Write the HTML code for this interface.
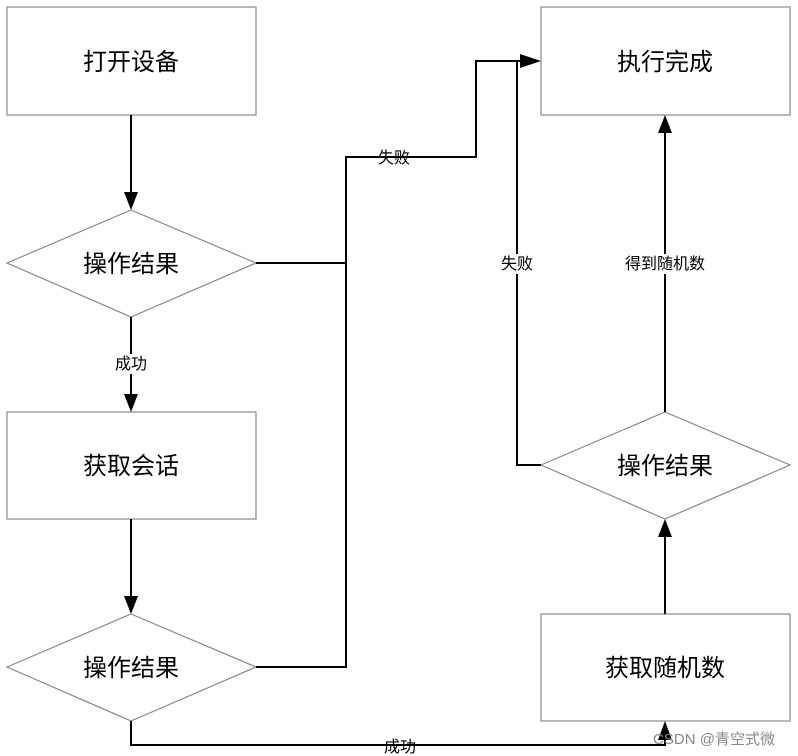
<!DOCTYPE html>
<html><head><meta charset="utf-8"><style>
html,body{margin:0;padding:0;background:#fff;}
</style></head><body>
<svg width="798" height="756" xmlns="http://www.w3.org/2000/svg" style="display:block">
<g fill="#fff" stroke="#888" stroke-width="1.2">
<rect x="7" y="7" width="249" height="108"/>
<rect x="7" y="412" width="249" height="107"/>
<rect x="541" y="7" width="249" height="108"/>
<rect x="541" y="614" width="249" height="107"/>
<polygon points="7,263 131,210 256,263 131,317"/>
<polygon points="7,667 131,614 256,667 131,721"/>
<polygon points="541,465 665,412 790,465 665,519"/>
</g>
<g fill="none" stroke="#000" stroke-width="2">
<line x1="131" y1="115" x2="131" y2="192"/>
<line x1="131" y1="317" x2="131" y2="394"/>
<line x1="131" y1="519" x2="131" y2="596"/>
<polyline points="256,263 346,263 346,157 476,157 476,61 522,61"/>
<polyline points="256,667 346,667 346,263"/>
<polyline points="131,721 131,745 665,745 665,740"/>
<polyline points="541,465 517,465 517,61"/>
<line x1="665" y1="412" x2="665" y2="133"/>
<line x1="665" y1="614" x2="665" y2="537"/>
</g>
<g fill="#000">
<polygon points="124,192 138,192 131,210"/>
<polygon points="124,394 138,394 131,412"/>
<polygon points="124,596 138,596 131,614"/>
<polygon points="520,54 520,68 541,61"/>
<polygon points="658,133 672,133 665,115"/>
<polygon points="658,537 672,537 665,519"/>
<polygon points="658,740 672,740 665,721"/>
</g>
<g font-family="Liberation Sans, Noto Sans CJK SC, sans-serif" text-anchor="middle" fill="#000">
<g font-size="24">
<text x="131" y="70">打开设备</text>
<text x="131" y="272">操作结果</text>
<text x="131" y="474">获取会话</text>
<text x="131" y="676">操作结果</text>
<text x="665" y="70">执行完成</text>
<text x="665" y="474">操作结果</text>
<text x="665" y="676">获取随机数</text>
</g>
<g font-size="16">
<rect x="112" y="354" width="38" height="20" fill="#fff"/>
<text x="131" y="369">成功</text>
<text x="394" y="163">失败</text>
<rect x="498" y="254" width="38" height="20" fill="#fff"/>
<text x="517" y="269">失败</text>
<rect x="620" y="254" width="90" height="20" fill="#fff"/>
<text x="665" y="269">得到随机数</text>
<text x="400" y="752">成功</text>
</g>
<text x="714" y="744" font-size="15" fill="#888">CSDN @青空式微</text>
</g>
</svg>
</body></html>
